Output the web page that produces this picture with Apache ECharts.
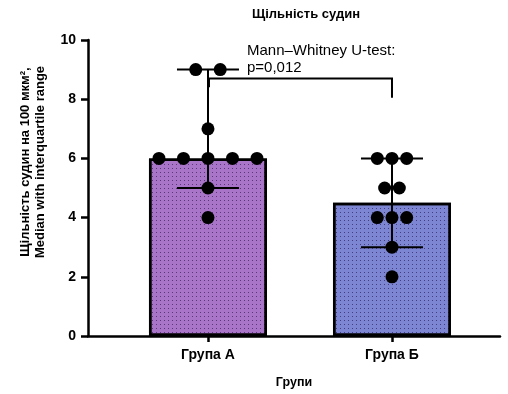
<!DOCTYPE html>
<html><head><meta charset="utf-8">
<script src="https://cdn.jsdelivr.net/npm/echarts@6/dist/echarts.min.js"></script>
<style>html,body{margin:0;padding:0;background:#fff}#c{width:508px;height:394px}</style>
</head><body><div id="c"></div>
<script>
const categories = ['Група А', 'Група Б'];
const medians = [6, 4.5];
const errLow = [5, 3];
const errHigh = [9, 6];
// individual points: [offsetSlot, value]
const pointsA = [[-2,6],[-1,6],[0,6],[1,6],[2,6],[-0.5,9],[0.5,9],[0,7],[0,5],[0,4]];
const pointsB = [[-0.6,6],[0,6],[0.6,6],[-0.3,5],[0.3,5],[-0.6,4],[0,4],[0.6,4],[0,3],[0,2]];
const yTicks = [0, 2, 4, 6, 8, 10];
const pValueText = 'Mann–Whitney U-test:\np=0,012';
const bracket = {from: 0, to: 1, y: 8.7, leftDrop: 8.4, rightDrop: 8.05};

const FONT = 'Liberation Sans, Arial, sans-serif';
const barColors = ['#a975c8', '#7d86d2'];
const slotPx = 24.5;

const chart = echarts.init(document.getElementById('c'));
const scatterData = [];
pointsA.forEach(p => scatterData.push([0, p[1], p[0]]));
pointsB.forEach(p => scatterData.push([1, p[1], p[0]]));

chart.setOption({
  animation: false,
  title: {text: 'Щільність судин', left: 301, top: 3, textAlign: 'center',
    textStyle: {fontFamily: FONT, fontSize: 13, fontWeight: 'bold', color: '#000'}},
  grid: {left: 88, right: 8, top: 40, bottom: 58, outerBoundsMode: 'none', containLabel: false},
  xAxis: {type: 'value', min: -0.652, max: 1.587,
    name: 'Групи', nameLocation: 'middle', nameGap: 40,
    nameTextStyle: {fontFamily: FONT, fontSize: 12.5, fontWeight: 'bold', color: '#000'},
    splitLine: {show: false},
    axisLine: {show: true, onZero: false, lineStyle: {color: '#000', width: 2.5}},
    axisTick: {show: true, customValues: [0, 1], length: 6, lineStyle: {color: '#000', width: 2.5}},
    axisLabel: {customValues: [0, 1], formatter: v => categories[Math.round(v)], margin: 12,
      fontFamily: FONT, fontSize: 14, fontWeight: 'bold', color: '#000'}
  },
  yAxis: {type: 'value', min: 0, max: 10, interval: 2,
    name: 'Щільність судин на 100 мкм²,\nMedian with interquartile range',
    nameLocation: 'middle', nameGap: 40, nameRotate: 90,
    nameTextStyle: {fontFamily: FONT, fontSize: 13, fontWeight: 'bold', color: '#000', lineHeight: 15,
      padding: [0, 0, 0, 52]},
    splitLine: {show: false},
    axisLine: {show: true, onZero: false, lineStyle: {color: '#000', width: 2.5}},
    axisTick: {show: true, length: 7, lineStyle: {color: '#000', width: 2.5}},
    axisLabel: {fontFamily: FONT, fontSize: 14, fontWeight: 'bold', color: '#000', margin: 12,
      customValues: yTicks}
  },
  series: [
    {type: 'bar', barWidth: 118, z: 1,
      data: medians.map((m, i) => ({value: [i, m], itemStyle: {color: barColors[i],
        decal: {symbol: 'rect', symbolSize: 1, dashArrayX: [[1, 3]], dashArrayY: [1, 3], color: 'rgba(30,0,60,0.55)', rotation: 0}}})),
      itemStyle: {borderColor: '#000', borderWidth: 2.5}
    },
    {type: 'custom', z: 3,
      data: medians.map((m, i) => [i, errLow[i], errHigh[i]]),
      renderItem: (params, api) => {
        const lo = api.coord([api.value(0), api.value(1)]);
        const hi = api.coord([api.value(0), api.value(2)]);
        const st = {stroke: '#000', lineWidth: 2};
        return {type: 'group', children: [
          {type: 'line', shape: {x1: lo[0], y1: lo[1], x2: hi[0], y2: hi[1]}, style: st},
          {type: 'line', shape: {x1: lo[0]-31, y1: lo[1], x2: lo[0]+31, y2: lo[1]}, style: st},
          {type: 'line', shape: {x1: hi[0]-31, y1: hi[1], x2: hi[0]+31, y2: hi[1]}, style: st}
        ]};
      }
    },
    {type: 'custom', z: 2,
      data: [[bracket.from, bracket.to, bracket.y, bracket.leftDrop, bracket.rightDrop]],
      renderItem: (params, api) => {
        const a = api.coord([api.value(0), api.value(2)]);
        const b = api.coord([api.value(1), api.value(2)]);
        const ad = api.coord([api.value(0), api.value(3)]);
        const bd = api.coord([api.value(1), api.value(4)]);
        const st = {stroke: '#000', lineWidth: 2, fill: null};
        return {type: 'polyline', shape: {points: [[ad[0]+1, ad[1]], [a[0]+1, a[1]], [b[0], b[1]], [bd[0], bd[1]]]}, style: st};
      }
    },
    {type: 'scatter', z: 4, symbolSize: 13,
      itemStyle: {color: '#000', opacity: 1},
      data: scatterData,
      encode: {x: 0, y: 1},
      symbolOffset: (v) => [v[2] * slotPx, 0]
    }
  ],
  graphic: [{type: 'text', left: 247, top: 42, z: 10,
    style: {text: pValueText, fontFamily: FONT, fontSize: 15, fill: '#000', lineHeight: 17}}]
});
</script></body></html>
